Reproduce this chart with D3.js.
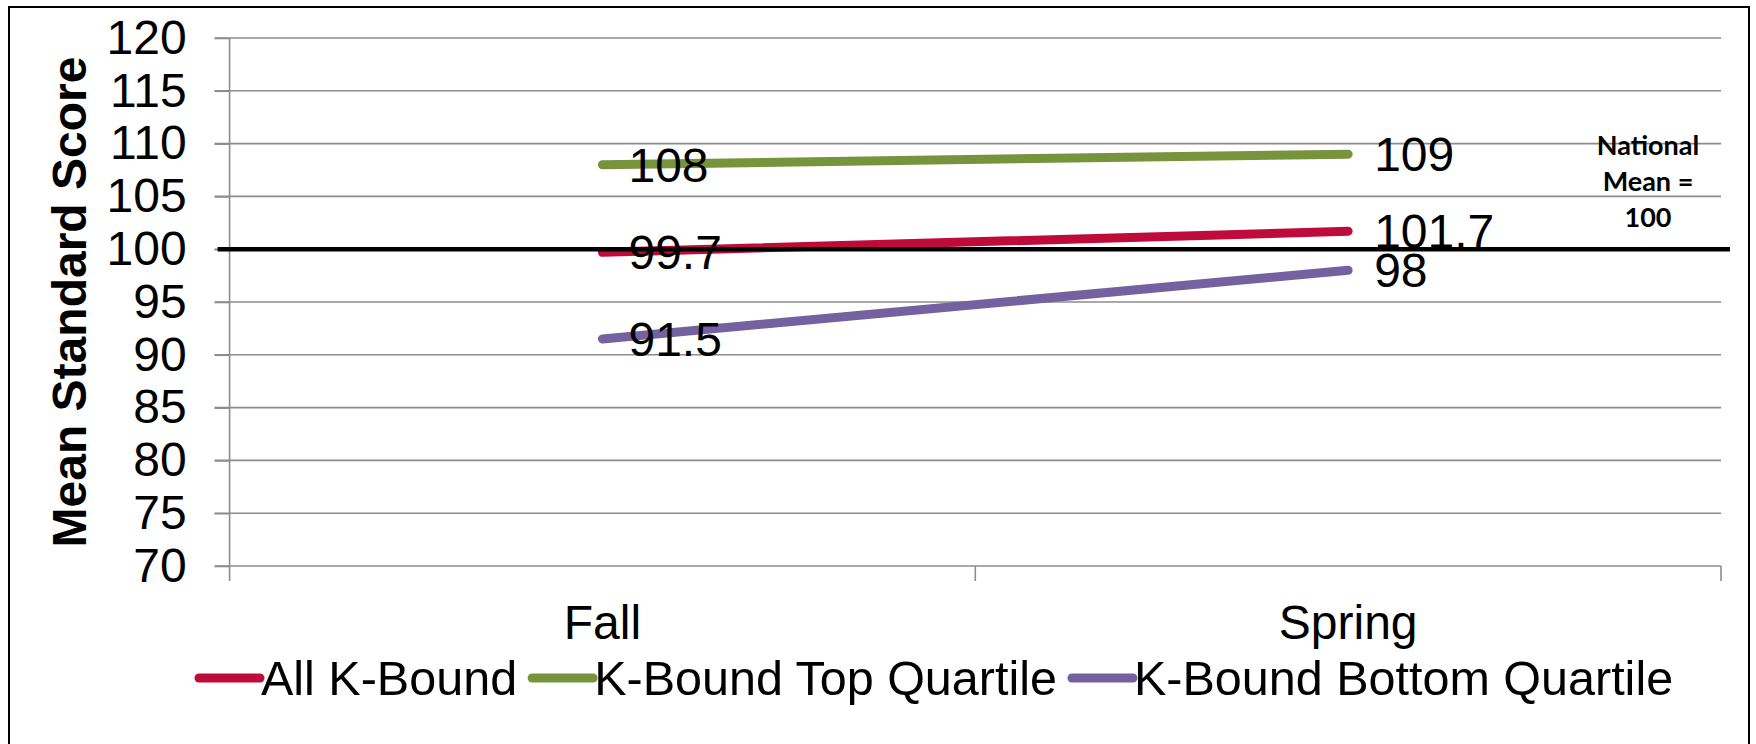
<!DOCTYPE html>
<html>
<head>
<meta charset="utf-8">
<script src="https://cdn.jsdelivr.net/npm/d3@7"></script>
<style>
  html, body { margin: 0; padding: 0; background: #fff; }
  text { font-family: "Liberation Sans", Arial, sans-serif; fill: #000; }
</style>
</head>
<body>
<script>
// data
var categories = ["Fall", "Spring"];
var seriesNames = ["All K-Bound", "K-Bound Top Quartile", "K-Bound Bottom Quartile"];
var allKBound = [99.7, 101.7];
var topQuartile = [108, 109];
var bottomQuartile = [91.5, 98];
var yTicks = [70, 75, 80, 85, 90, 95, 100, 105, 110, 115, 120];
var nationalMean = 100;
var noteLines = ["National", "Mean =", "100"];

var colors = ["#BE0B3B", "#77933C", "#7461A0"];
var seriesValues = [allKBound, topQuartile, bottomQuartile];

var width = 1756,
    height = 744;

// plot box (window.top is read-only, so no bare "top")
var plotL = 229.6, plotR = 1721, plotT = 38, plotB = 566;

var svg = d3.select("body").append("svg")
    .attr("width", width)
    .attr("height", height);

// outer frame
svg.append("rect")
    .attr("x", 9).attr("y", 7)
    .attr("width", 1740).attr("height", 800)
    .attr("fill", "none")
    .attr("stroke", "#000")
    .attr("stroke-width", 2);

var x = d3.scaleBand().domain(categories).range([plotL, plotR]).padding(0);
var y = d3.scaleLinear().domain([70, 120]).range([plotB, plotT]);
var cx = function(c) { return x(c) + x.bandwidth() / 2; };

// gridlines
svg.append("g")
  .selectAll("line")
    .data(yTicks)
  .enter().append("line")
    .attr("x1", plotL - 15).attr("x2", plotR)
    .attr("y1", function(d) { return y(d); })
    .attr("y2", function(d) { return y(d); })
    .attr("stroke", "#8c8c8c")
    .attr("stroke-width", 1.6);

// y axis labels
var yAxis = svg.append("g")
    .attr("transform", "translate(" + plotL + ",0)")
    .call(d3.axisLeft(y).tickValues(yTicks).tickSize(15).tickPadding(28));
yAxis.select(".domain").remove();
yAxis.selectAll(".tick line").attr("stroke", "#8c8c8c").attr("stroke-width", 1.6);
yAxis.selectAll("text")
    .style("font-family", "'Liberation Sans', Arial, sans-serif")
    .style("font-size", "48px")
    .attr("fill", "#000");

// vertical axis line and category separators
var tickXs = categories.map(function(c) { return x(c) + x.bandwidth(); });
svg.append("line")
    .attr("x1", plotL).attr("x2", plotL)
    .attr("y1", plotT).attr("y2", plotB + 15)
    .attr("stroke", "#8c8c8c").attr("stroke-width", 1.6);
svg.append("g")
  .selectAll("line")
    .data(tickXs)
  .enter().append("line")
    .attr("x1", function(d) { return d; }).attr("x2", function(d) { return d; })
    .attr("y1", plotB).attr("y2", plotB + 15)
    .attr("stroke", "#8c8c8c").attr("stroke-width", 1.6);

// category labels
svg.append("g")
  .selectAll("text")
    .data(categories)
  .enter().append("text")
    .attr("x", cx)
    .attr("y", 639)
    .attr("text-anchor", "middle")
    .style("font-size", "48px")
    .text(function(d) { return d; });

// y axis title
svg.append("text")
    .attr("transform", "translate(86," + ((plotT + plotB) / 2) + ") rotate(-90)")
    .attr("text-anchor", "middle")
    .style("font-size", "48px")
    .style("font-weight", "bold")
    .text("Mean Standard Score");

// series lines
var line = d3.line()
    .x(function(d, i) { return cx(categories[i]); })
    .y(function(d) { return y(d); });

svg.append("g")
  .selectAll("path")
    .data(seriesValues)
  .enter().append("path")
    .attr("d", line)
    .attr("fill", "none")
    .attr("stroke", function(d, i) { return colors[i]; })
    .attr("stroke-width", 9)
    .attr("stroke-linecap", "round");

// national mean line
svg.append("line")
    .attr("x1", plotL - 12).attr("x2", 1730)
    .attr("y1", y(nationalMean)).attr("y2", y(nationalMean))
    .attr("stroke", "#000")
    .attr("stroke-width", 4.5);

// value labels
seriesValues.forEach(function(vals) {
  svg.append("g")
    .selectAll("text")
      .data(vals)
    .enter().append("text")
      .attr("x", function(d, i) { return cx(categories[i]) + 26; })
      .attr("y", function(d) { return y(d) + 17; })
      .style("font-size", "48px")
      .text(function(d) { return String(d); });
});

// national mean note
svg.append("g")
  .selectAll("text")
    .data(noteLines)
  .enter().append("text")
    .attr("x", 1648)
    .attr("y", function(d, i) { return 155 + i * 36; })
    .attr("text-anchor", "middle")
    .style("font-family", "Lato, 'Open Sans', sans-serif")
    .style("font-weight", "bold")
    .style("font-size", "27px")
    .text(function(d) { return d; });

// legend
var legend = svg.append("g");
var lx = 199, ly = 678;
seriesNames.forEach(function(name, i) {
  legend.append("line")
      .attr("x1", lx).attr("x2", lx + 61)
      .attr("y1", ly).attr("y2", ly)
      .attr("stroke", colors[i])
      .attr("stroke-width", 9)
      .attr("stroke-linecap", "round");
  var t = legend.append("text")
      .attr("x", lx + 62)
      .attr("y", ly + 17)
      .style("font-size", "48.5px")
      .text(name);
  lx = lx + 62 + t.node().getComputedTextLength() + 15;
});
</script>
</body>
</html>
